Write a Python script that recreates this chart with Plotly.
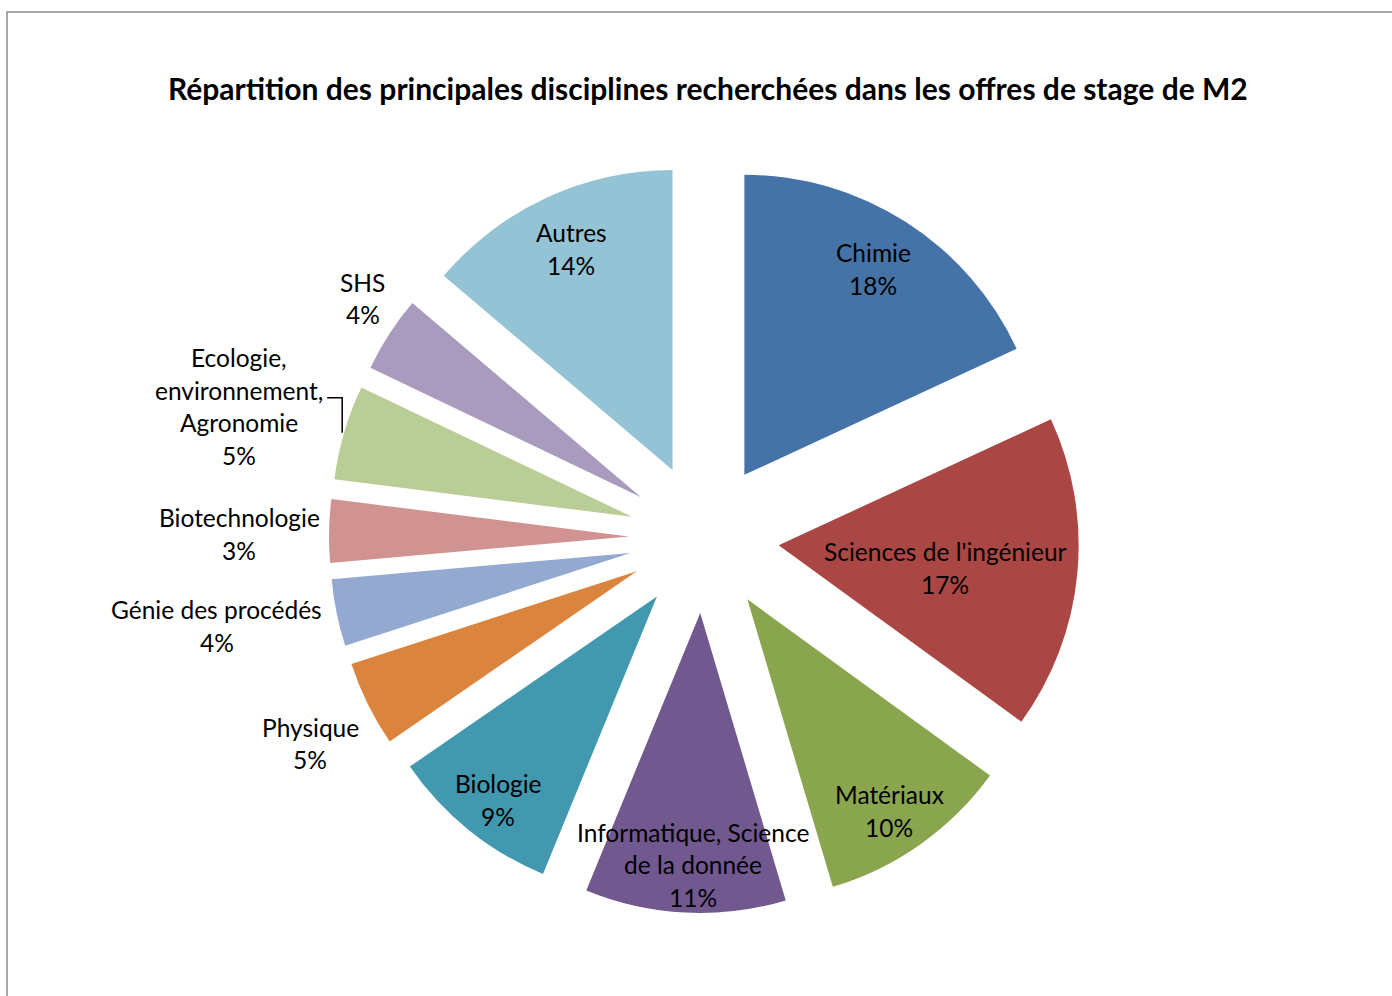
import math
import plotly.graph_objects as go

# ---- data ----
labels = ["Chimie", "Sciences de l'ingénieur", "Matériaux", "Informatique, Science de la donnée",
          "Biologie", "Physique", "Génie des procédés", "Biotechnologie",
          "Ecologie, environnement, Agronomie", "SHS", "Autres"]
label_lines = [["Chimie"], ["Sciences de l'ingénieur"], ["Matériaux"],
               ["Informatique, Science", "de la donnée"], ["Biologie"], ["Physique"],
               ["Génie des procédés"], ["Biotechnologie"],
               ["Ecologie,", "environnement,", "Agronomie"], ["SHS"], ["Autres"]]
values = [18.1, 16.9, 10.4, 10.8, 9.2, 4.6, 3.6, 3.4, 5.1, 4.1, 13.8]
colors = ["#4572A7", "#AA4643", "#89A54E", "#71588F", "#4198AF", "#DB843D",
          "#93A9CF", "#D19392", "#B9CD96", "#A99BBD", "#93C3D5"]
title = "Répartition des principales disciplines recherchées dans les offres de stage de M2"

# ---- layout (style) ----
W, H = 1392, 996
cx, cy = 704, 538          # pie centre in px
pull = 0.25
R = 300                    # pie radius in px
half = R * (1 + pull)
label_radius = [1.06, 0.81, 1.10, 1.09, 1.11, 1.48, 1.65, 1.55, 1.61, 1.39, 1.06]
label_angle_shift = [-0.4, 1.5, 1.1, -1.0, -0.7, -1.3, 1.3, -0.6, -0.6, 2.1, 0.2]
FONT = "Lato"
LABEL_SIZE = 24.5
TITLE_SIZE = 30
LINE_H = 32.5

def px2paper(x, y):
    return x / W, 1 - y / H

fig = go.Figure(go.Pie(
    labels=labels, values=values, sort=False, direction="clockwise", rotation=0,
    pull=[pull] * len(values), marker=dict(colors=colors, line=dict(width=0)),
    textinfo="none", hoverinfo="label+percent", showlegend=False,
    domain=dict(x=[(cx - half) / W, (cx + half) / W],
                y=[1 - (cy + half) / H, 1 - (cy - half) / H]),
))

total = sum(values)
cum = 0
annotations = []
ecol_path = ""
for i, v in enumerate(values):
    mid = (cum + v / 2) / total * 2 * math.pi + math.radians(label_angle_shift[i])
    cum += v
    d = label_radius[i] * R
    x = cx + d * math.sin(mid)
    y = cy - d * math.cos(mid)
    pct = math.floor(v / total * 100 + 0.5)
    lines = label_lines[i] + [f"{pct}%"]
    n = len(lines)
    for j, t in enumerate(lines):
        yy = y + (j - (n - 1) / 2) * LINE_H
        px_, py_ = px2paper(x, yy)
        annotations.append(dict(x=px_, y=py_, xref="paper", yref="paper", text=t,
                                showarrow=False, xanchor="center", yanchor="middle",
                                font=dict(family=FONT, size=LABEL_SIZE, color="#000000")))
    if i == 8:
        # leader line for the Ecologie label
        p1 = px2paper(x + 88, y - 9)
        p2 = px2paper(x + 103, y - 9)
        p3 = px2paper(x + 103, y + 26)
        ecol_path = f"M {p1[0]},{p1[1]} L {p2[0]},{p2[1]} L {p3[0]},{p3[1]}"

tx, ty = px2paper(708, 88)
annotations.append(dict(x=tx, y=ty, xref="paper", yref="paper", text=f"<b>{title}</b>",
                        showarrow=False, xanchor="center", yanchor="middle",
                        font=dict(family=FONT, size=TITLE_SIZE, color="#000000")))

bx0, by1 = px2paper(7, 12)
shapes = [
    dict(type="rect", xref="paper", yref="paper", x0=bx0, y0=-0.05, x1=1.05, y1=by1,
         line=dict(color="#8C8C8C", width=1.5), fillcolor="rgba(0,0,0,0)"),
    dict(type="path", xref="paper", yref="paper", path=ecol_path,
         line=dict(color="#000000", width=1.5)),
]

fig.update_layout(width=W, height=H, margin=dict(l=0, r=0, t=0, b=0),
                  paper_bgcolor="white", plot_bgcolor="white",
                  annotations=annotations, shapes=shapes)

fig.write_html("out.html", config={"displayModeBar": False},
               post_script="document.body.style.margin='0';document.body.style.overflow='hidden';")
